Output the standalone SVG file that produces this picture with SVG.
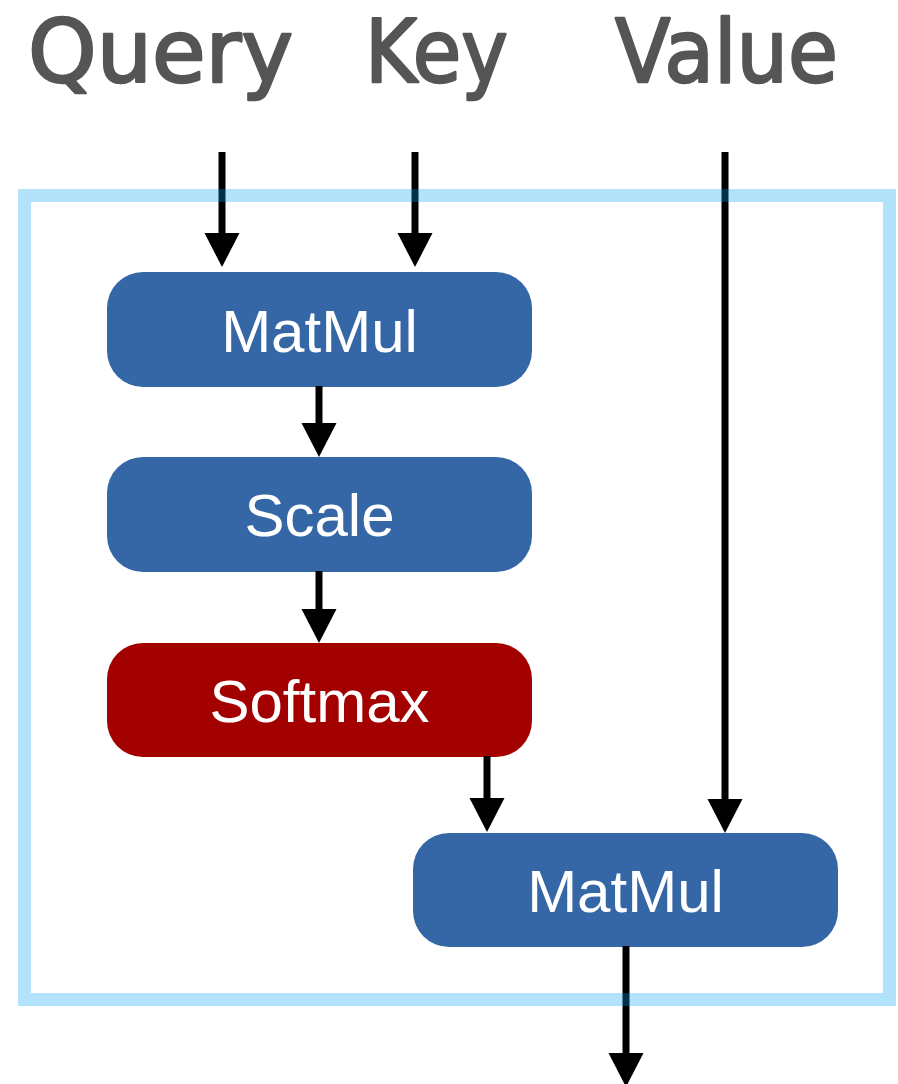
<svg xmlns="http://www.w3.org/2000/svg" width="898" height="1084" viewBox="0 0 898 1084">
  <style>
    .title { font-family: "DejaVu Sans", "Liberation Sans", sans-serif; font-size: 88px; fill: #555555; stroke: #555555; stroke-width: 2.5; stroke-linejoin: round; }
    .node-text { font-family: "Liberation Sans", Arial, sans-serif; font-size: 60px; fill: #ffffff; text-anchor: middle; }
    .blue { fill: #3566a5; }
    .red { fill: #a30000; }
    .conn { stroke: #000000; stroke-width: 7; fill: none; }
    .frame { fill: none; stroke: rgb(2,158,242); stroke-opacity: 0.3; stroke-width: 13; }
  </style>
  <defs>
    <marker id="arrow" markerUnits="userSpaceOnUse" markerWidth="36" markerHeight="35" refX="0" refY="17.5" orient="auto" overflow="visible">
      <polygon points="0,0 34,17.5 0,35" fill="#000000"/>
    </marker>
  </defs>
  <rect width="898" height="1084" fill="#ffffff"/>

  <g id="labels">
    <text class="title" x="28" y="82" textLength="265" lengthAdjust="spacingAndGlyphs">Query</text>
    <text class="title" x="365" y="82" textLength="143" lengthAdjust="spacingAndGlyphs">Key</text>
    <text class="title" x="615" y="82" textLength="223" lengthAdjust="spacingAndGlyphs">Value</text>
  </g>

  <g id="matmul1">
    <rect class="blue" x="107" y="272" width="425" height="115" rx="36" ry="36"/>
    <text class="node-text" x="319.5" y="352">MatMul</text>
  </g>
  <g id="scale">
    <rect class="blue" x="107" y="457" width="425" height="115" rx="36" ry="36"/>
    <text class="node-text" x="319.5" y="536">Scale</text>
  </g>
  <g id="softmax">
    <rect class="red" x="107" y="643" width="425" height="114" rx="36" ry="36"/>
    <text class="node-text" x="319.5" y="722">Softmax</text>
  </g>
  <g id="matmul2">
    <rect class="blue" x="413" y="833" width="425" height="114" rx="36" ry="36"/>
    <text class="node-text" x="625.5" y="912">MatMul</text>
  </g>

  <g id="connectors">
    <line class="conn" x1="222" y1="152" x2="222" y2="233" marker-end="url(#arrow)"/>
    <line class="conn" x1="415" y1="152" x2="415" y2="233" marker-end="url(#arrow)"/>
    <line class="conn" x1="725" y1="152" x2="725" y2="799" marker-end="url(#arrow)"/>
    <line class="conn" x1="319" y1="386" x2="319" y2="423" marker-end="url(#arrow)"/>
    <line class="conn" x1="319" y1="571" x2="319" y2="609" marker-end="url(#arrow)"/>
    <line class="conn" x1="487" y1="756" x2="487" y2="798" marker-end="url(#arrow)"/>
    <line class="conn" x1="626" y1="946" x2="626" y2="1053" marker-end="url(#arrow)"/>
  </g>

  <g id="frame">
    <rect class="frame" x="24.5" y="195.5" width="865" height="804"/>
  </g>
</svg>
